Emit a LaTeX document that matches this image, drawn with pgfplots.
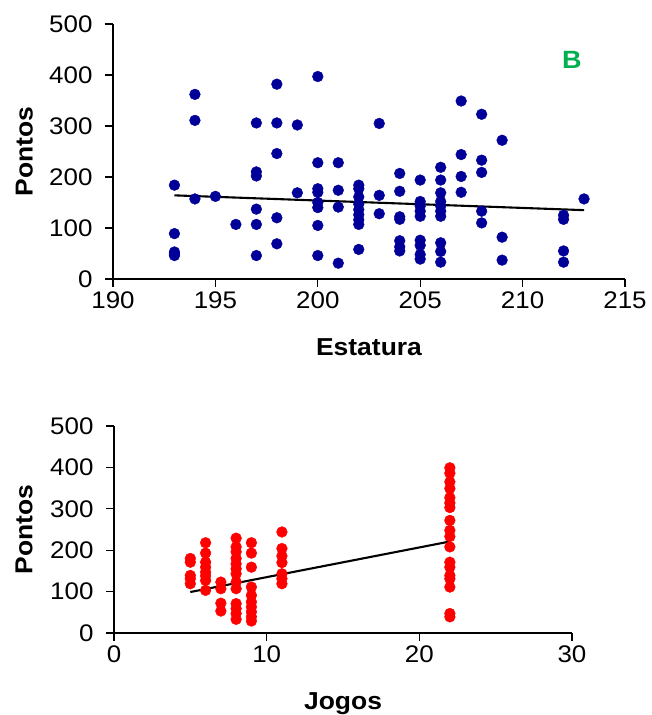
\documentclass[border=0pt]{standalone}
\usepackage{fontspec}
\setmainfont{Liberation Sans}[FakeStretch=1.08]
\usepackage{pgfplots}
\pgfplotsset{compat=1.18}
\definecolor{ptblue}{RGB}{0,0,153}
\definecolor{ptred}{RGB}{255,0,0}
\definecolor{lblgreen}{RGB}{0,176,80}

\pgfplotsset{
  excel/.style={
    scale only axis,
    axis x line=bottom,
    axis y line=left,
    axis line style={line width=1.4pt,-},
    tick align=outside,
    major tick length=8pt,
    tick style={line width=1.2pt,black},
    ymin=0, ymax=500,
    ytick={0,100,...,500},
    tick label style={font=\fontsize{24}{28}\selectfont},
    yticklabel style={xshift=-9pt},
    xticklabel style={yshift=-1pt},
    /pgf/number format/assume math mode=true,
    label style={font=\fontsize{24.5}{28}\selectfont\bfseries},
    x label style={at={(axis description cs:0.5,0)},anchor=north,yshift=-59pt,inner sep=0pt},
    clip=false,
  },
}

\begin{document}
\begin{tikzpicture}
\path[use as bounding box] (0,0) rectangle (651pt,715pt);

% Pontos x Estatura
\begin{axis}[excel,
    at={(113pt,436pt)}, anchor=south west,
    width=512pt, height=255pt,
    xmin=190, xmax=215,
    xtick={190,195,...,215},
    xlabel={Estatura}, ylabel={Pontos},
    y label style={at={(axis description cs:-0.156,0.5)},anchor=south,rotate=0,inner sep=0pt},
]
\addplot[only marks, mark=*, mark size=5.4pt, color=ptblue] coordinates {
  (193,184) (193,89) (193,53) (193,46) (193,50)
  (194,362) (194,311) (194,157)
  (195,162)
  (196,107)
  (197,306) (197,210) (197,202) (197,137) (197,107) (197,46)
  (198,382) (198,306) (198,246) (198,120) (198,69)
  (199,302) (199,169)
  (200,397) (200,228) (200,177) (200,170) (200,150) (200,140) (200,105) (200,46)
  (201,228) (201,174) (201,141) (201,31)
  (202,184) (202,177) (202,161) (202,147) (202,136) (202,126) (202,116) (202,107) (202,58)
  (203,305) (203,164) (203,128)
  (204,207) (204,172) (204,122) (204,117) (204,75) (204,63) (204,55)
  (205,194) (205,152) (205,143) (205,133) (205,123) (205,76) (205,66) (205,48) (205,39)
  (206,219) (206,194) (206,169) (206,152) (206,143) (206,133) (206,123) (206,71) (206,54) (206,33)
  (207,349) (207,244) (207,201) (207,170)
  (208,323) (208,233) (208,209) (208,133) (208,110)
  (209,272) (209,82) (209,37)
  (212,125) (212,117) (212,55) (212,33)
  (213,157)
};
\addplot[black, line width=2.1pt, mark=none] coordinates {(193,164) (213,135)};
\node[font=\fontsize{25}{28}\selectfont\bfseries, text=lblgreen] at (axis cs:212.4,429) {B};
\end{axis}

% Pontos x Jogos
\begin{axis}[excel,
    at={(114pt,82pt)}, anchor=south west,
    width=458pt, height=207pt,
    xmin=0, xmax=30,
    xtick={0,10,20,30},
    xlabel={Jogos}, ylabel={Pontos},
    y label style={at={(axis description cs:-0.177,0.5)},anchor=south,rotate=0,inner sep=0pt},
]
\addplot[only marks, mark=*, mark size=5.4pt, color=ptred] coordinates {
  (5,180) (5,171) (5,139) (5,131) (5,119)
  (6,218) (6,193) (6,171) (6,159) (6,147) (6,138) (6,127) (6,103)
  (7,123) (7,107) (7,72) (7,53)
  (8,229) (8,208) (8,196) (8,180) (8,167) (8,155) (8,143) (8,123) (8,107) (8,71) (8,59) (8,47) (8,33)
  (9,218) (9,193) (9,159) (9,111) (9,91) (9,75) (9,63) (9,51) (9,39) (9,29)
  (11,244) (11,204) (11,186) (11,170) (11,143) (11,131) (11,119)
  (22,399) (22,386) (22,365) (22,349) (22,327) (22,314) (22,303) (22,272) (22,248) (22,233) (22,208) (22,171) (22,159) (22,139) (22,131) (22,111) (22,47) (22,39)
};
\addplot[black, line width=2.1pt, mark=none] coordinates {(5,99) (22,221)};
\end{axis}
\end{tikzpicture}
\end{document}
